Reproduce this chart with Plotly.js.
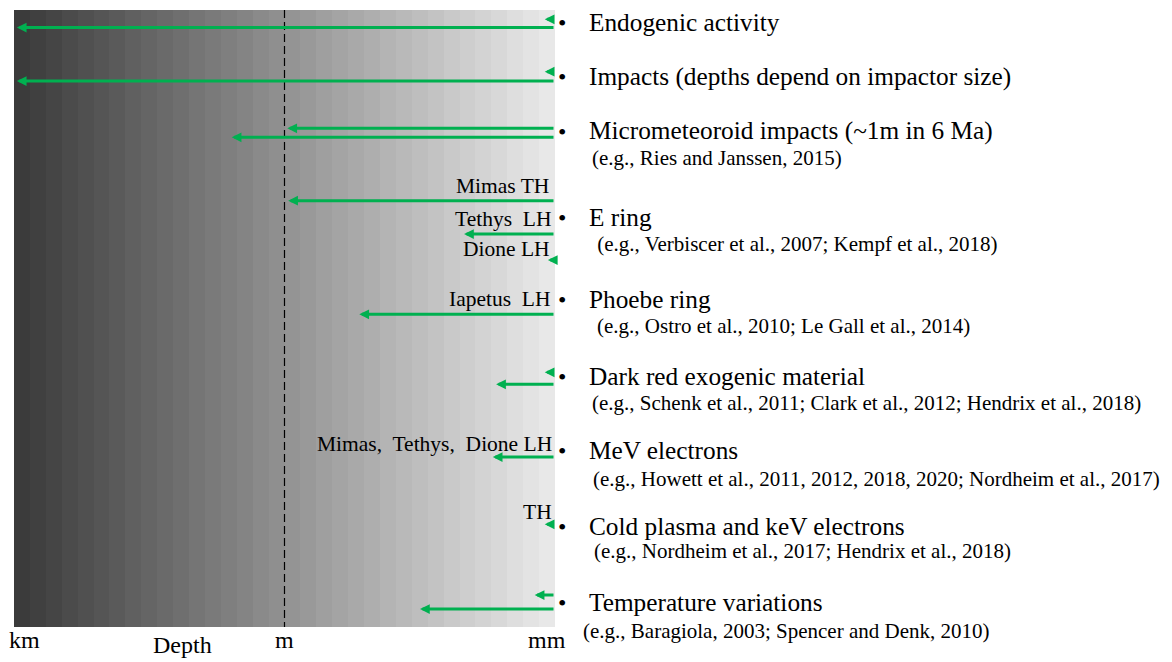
<!DOCTYPE html>
<html>
<head>
<meta charset="utf-8">
<script src="https://cdn.plot.ly/plotly-3.0.1.min.js"></script>
<style>html,body{margin:0;padding:0;background:#fff;}#chart{width:1172px;height:662px;}</style>
</head>
<body>
<div id="chart"></div>
<script>
// ---- data ----
// processes (right-hand list) and their references
const processes = [
  "Endogenic activity",
  "Impacts (depths depend on impactor size)",
  "Micrometeoroid impacts (~1m in 6 Ma)",
  "E ring",
  "Phoebe ring",
  "Dark red exogenic material",
  "MeV electrons",
  "Cold plasma and keV electrons",
  "Temperature variations"
];
const references = [
  "",
  "",
  "(e.g., Ries and Janssen, 2015)",
  " (e.g., Verbiscer et al., 2007; Kempf et al., 2018)",
  "(e.g., Ostro et al., 2010; Le Gall et al., 2014)",
  "(e.g., Schenk et al., 2011; Clark et al., 2012; Hendrix et al., 2018)",
  "(e.g., Howett et al., 2011, 2012, 2018, 2020; Nordheim et al., 2017)",
  "(e.g., Nordheim et al., 2017; Hendrix et al., 2018)",
  "(e.g., Baragiola, 2003; Spencer and Denk, 2010)"
];
// penetration depth of each arrow (metres), all starting at the surface (1 mm)
const surfaceDepth = 0.001;
const arrowDepth = [930, 0.0013, 930, 0.0013, 0.93, 3.85, 0.91, 0.0102, 0.0012, 0.148, 0.0013, 0.0045, 0.0049, 0.0013, 0.00168, 0.0314];
// arrow labels
const arrowLabels = ["Mimas TH", "Tethys  LH", "Dione LH", "Iapetus  LH", "Mimas,  Tethys,  Dione LH", "TH"];
// depth scale tick labels
const tickDepth = [1000, 1, 0.001];
const tickText = ["km", "m", "mm"];
const axisTitle = "Depth";

// ---- layout positions (pixels) ----
const W = 1172, H = 662;
const arrowLane = [27.5, 19.3, 81, 71.7, 128.3, 137.3, 200.7, 234, 260, 314.3, 372.3, 384.3, 457, 524.3, 595, 609];
const procY = [22, 76, 131, 217, 299, 376, 450, 526, 602];
const refPos = [[0,0],[0,0],[590,158],[590,244],[595,326],[590,403],[591,479],[592,551],[581,631]];
const labelPos = [[551,186],[553,219],[552,249],[553,299],[554,444],[554,512]];
const tickY = 640;

const green = "#00b050";
const font = "Liberation Serif, Times New Roman, serif";

// background gradient (banded)
const nBands = 34;
const bandEdges = [], bandZ = [];
for (let i = 0; i <= nBands; i++) bandEdges.push(3 - 6 * i / nBands);
for (let i = 0; i < nBands; i++) bandZ.push(i);

const traces = [{
  type: "heatmap",
  x: bandEdges,
  y: [10, 627],
  z: [bandZ],
  colorscale: [[0, "#3b3b3b"], [1, "#e8e8e8"]],
  showscale: false,
  hoverinfo: "skip",
  zsmooth: false
}];

const ann = [];
arrowDepth.forEach((d, i) => {
  ann.push({
    x: Math.log10(d), y: arrowLane[i], xref: "x", yref: "y",
    ax: Math.log10(surfaceDepth), ay: arrowLane[i], axref: "x", ayref: "y",
    text: "", showarrow: true, arrowhead: 2, arrowsize: 0.65, arrowwidth: 3,
    arrowcolor: green, standoff: 0, startstandoff: 0
  });
});
processes.forEach((p, i) => {
  ann.push({x: 562 / W, y: 1 - (procY[i] + 1) / H, xref: "paper", yref: "paper", text: "•",
    showarrow: false, xanchor: "center", yanchor: "middle", font: {family: font, size: 24, color: "#000"}});
  ann.push({x: 587 / W, y: 1 - procY[i] / H, xref: "paper", yref: "paper", text: p,
    showarrow: false, xanchor: "left", yanchor: "middle", font: {family: font, size: 25.3, color: "#000"}});
  if (references[i]) {
    ann.push({x: refPos[i][0] / W, y: 1 - refPos[i][1] / H, xref: "paper", yref: "paper", text: references[i],
      showarrow: false, xanchor: "left", yanchor: "middle", font: {family: font, size: 21, color: "#000"}});
  }
});
arrowLabels.forEach((t, i) => {
  ann.push({x: labelPos[i][0] / W, y: 1 - labelPos[i][1] / H, xref: "paper", yref: "paper", text: t,
    showarrow: false, xanchor: "right", yanchor: "middle", font: {family: font, size: 21.5, color: "#000"}});
});
const xPx = v => 14 + (3 - Math.log10(v)) / 6 * 541;
tickText.forEach((t, i) => {
  const anchors = ["left", "center", "right"];
  let px = xPx(tickDepth[i]);
  if (i === 0) px = 7;
  if (i === 2) px = 568;
  ann.push({x: px / W, y: 1 - tickY / H, xref: "paper", yref: "paper", text: t,
    showarrow: false, xanchor: anchors[i], yanchor: "middle", font: {family: font, size: 24, color: "#000"}});
});
ann.push({x: 182 / W, y: 2 / H, xref: "paper", yref: "paper", text: axisTitle,
  showarrow: false, xanchor: "center", yanchor: "bottom", font: {family: font, size: 24, color: "#000"}});

const layout = {
  width: W, height: H,
  margin: {l: 0, r: 0, t: 0, b: 0},
  paper_bgcolor: "#fff", plot_bgcolor: "#fff",
  showlegend: false,
  xaxis: {domain: [14 / W, 555 / W], range: [3, -3], showgrid: false, zeroline: false,
    showticklabels: false, ticks: "", showline: false, fixedrange: true},
  yaxis: {domain: [1 - 627 / H, 1 - 10 / H], range: [627, 10], showgrid: false, zeroline: false,
    showticklabels: false, ticks: "", showline: false, fixedrange: true},
  shapes: [{type: "line", xref: "x", yref: "y", x0: Math.log10(tickDepth[1]), x1: Math.log10(tickDepth[1]),
    y0: 10, y1: 627, line: {color: "#000", width: 1.2, dash: "8px,4px"}}],
  annotations: ann
};

Plotly.newPlot("chart", traces, layout, {displayModeBar: false, staticPlot: true});
</script>
</body>
</html>
